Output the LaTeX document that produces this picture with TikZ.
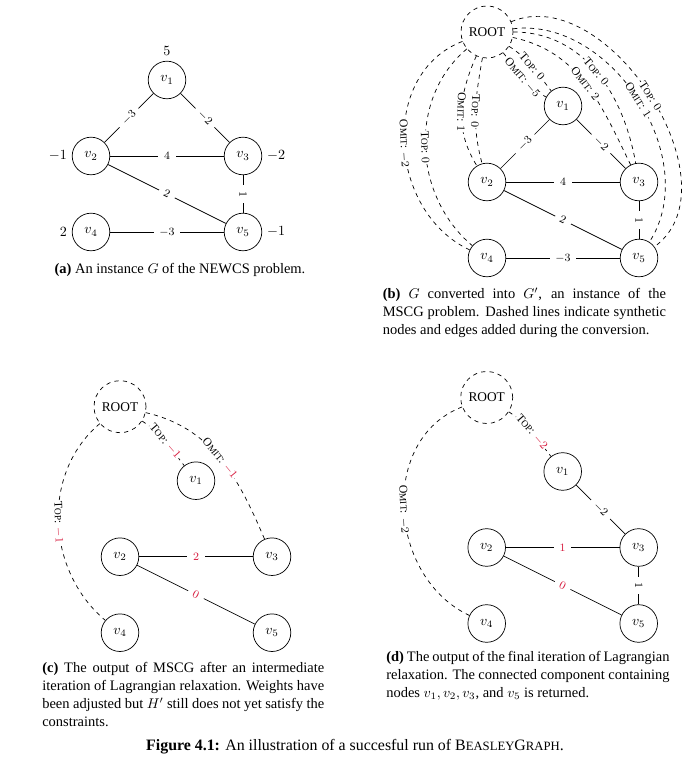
\documentclass[tikz,border=0pt]{standalone}
\usepackage{amsmath}
\usepackage{fontspec}
\setmainfont{Liberation Serif}
\usepackage{tikz}
\definecolor{lagr}{HTML}{D7193C}
\usetikzlibrary{positioning}
% fake small capitals (the serif face has none)
\newcommand{\tsc}[2]{#1\scalebox{0.8}{#2}}
\tikzset{
  vtx/.style={
    draw,
    circle,
    line width=0.5pt,
    minimum size=0.94cm,
    inner sep=0pt,
    font=\fontsize{10}{12}\selectfont
  },
  rootnode/.style={vtx, dashed, minimum size=1.3cm, font=\fontsize{9.5}{11}\selectfont},
  wgt/.style={font=\fontsize{10}{12}\selectfont},
  wedge/.style={line width=0.5pt},
  syn/.style={line width=0.5pt, dashed},
  wlab/.style={fill=white, inner sep=4pt, sloped, font=\fontsize{8}{9.6}\selectfont},
  slab/.style={fill=white, inner sep=0.5pt, sloped, allow upside down, font=\fontsize{8.4}{10}\selectfont},
  captext/.style={inner sep=0pt, font=\fontsize{10.3}{12.8}\selectfont},
  subcap/.style={captext, text width=7.08cm, align=justify, anchor=north west}
}
\begin{document}
\begin{tikzpicture}
  \path[use as bounding box, fill=white] (0,0) rectangle (17.325,19.425);

  % (a) the NEWCS instance
  \begin{scope}[shift={(2.275,13.625)}]
    \node[vtx, label={[wgt]above:$5$}] (a1) at (1.9,3.8) {$v_1$};
    \node[vtx, label={[wgt]left:$-1$}] (a2) at (0,1.9) {$v_2$};
    \node[vtx, label={[wgt]right:$-2$}] (a3) at (3.8,1.9) {$v_3$};
    \node[vtx, label={[wgt]left:$2$}] (a4) at (0,0) {$v_4$};
    \node[vtx, label={[wgt]right:$-1$}] (a5) at (3.8,0) {$v_5$};
    \draw[wedge] (a1) -- node[wlab] {$-3$} (a2);
    \draw[wedge] (a1) -- node[wlab] {$-2$} (a3);
    \draw[wedge] (a2) -- node[wlab] {$4$} (a3);
    \draw[wedge] (a2) -- node[wlab] {$2$} (a5);
    \draw[wedge] (a3) -- node[wlab] {$1$} (a5);
    \draw[wedge] (a4) -- node[wlab] {$-3$} (a5);
  \end{scope}
  \node[captext] (capa) at (4.5,12.675) {\textbf{(a)} An instance $G$ of the NEWCS problem.};

  % (b) the MSCG instance with synthetic root
  \begin{scope}[shift={(12.175,12.975)}]
    \node[rootnode] (broot) at (0,5.65) {ROOT};
    \node[vtx] (b1) at (1.9,3.8) {$v_1$};
    \node[vtx] (b2) at (0,1.9) {$v_2$};
    \node[vtx] (b3) at (3.8,1.9) {$v_3$};
    \node[vtx] (b4) at (0,0) {$v_4$};
    \node[vtx] (b5) at (3.8,0) {$v_5$};
    \draw[wedge] (b1) -- node[wlab] {$-3$} (b2);
    \draw[wedge] (b1) -- node[wlab] {$-2$} (b3);
    \draw[wedge] (b2) -- node[wlab] {$4$} (b3);
    \draw[wedge] (b2) -- node[wlab] {$2$} (b5);
    \draw[wedge] (b3) -- node[wlab] {$1$} (b5);
    \draw[wedge] (b4) -- node[wlab] {$-3$} (b5);
    \draw[syn] (broot) to[out=-33, in=128] node[slab] {\tsc{T}{OP}: $0$} (b1);
    \draw[syn] (broot) to[out=-52, in=152] node[slab] {\tsc{O}{MIT}: $-5$} (b1);
    \draw[syn] (broot) to[out=-100, in=105] node[slab] {\tsc{T}{OP}: $0$} (b2);
    \draw[syn] (broot) to[out=-114, in=122] node[slab] {\tsc{O}{MIT}: $1$} (b2);
    \draw[syn] (broot) to[out=0, in=100] node[slab] {\tsc{T}{OP}: $0$} (b3);
    \draw[syn] (broot) to[out=-12, in=116] node[slab] {\tsc{O}{MIT}: $2$} (b3);
    \draw[syn] (broot) to[out=-140, in=140] node[slab] {\tsc{T}{OP}: $0$} (b4);
    \draw[syn] (broot) to[out=-159, in=155, looseness=1.1] node[slab] {\tsc{O}{MIT}: $-2$} (b4);
    \draw[syn] (broot) to[out=23, in=36] node[slab] {\tsc{T}{OP}: $0$} (b5);
    \draw[syn] (broot) to[out=7, in=57] node[slab] {\tsc{O}{MIT}: $1$} (b5);
  \end{scope}
  \node[subcap] (capb) at (9.5625,12.225) {\textbf{(b)} $G$ converted into $G'$, an instance of the\linebreak MSCG problem. Dashed lines indicate synthetic\linebreak nodes and edges added during the conversion.};

  % (c) intermediate iteration
  \begin{scope}[shift={(3.0,3.6075)}]
    \node[rootnode] (croot) at (0,5.65) {ROOT};
    \node[vtx] (c1) at (1.9,3.8) {$v_1$};
    \node[vtx] (c2) at (0,1.9) {$v_2$};
    \node[vtx] (c3) at (3.8,1.9) {$v_3$};
    \node[vtx] (c4) at (0,0) {$v_4$};
    \node[vtx] (c5) at (3.8,0) {$v_5$};
    \draw[wedge] (c2) -- node[wlab, text=lagr] {$2$} (c3);
    \draw[wedge] (c2) -- node[wlab, text=lagr] {$0$} (c5);
    \draw[syn] (croot) to[out=-33, in=128] node[slab] {\tsc{T}{OP}: \textcolor{lagr}{$-1$}} (c1);
    \draw[syn] (croot) to[out=-13, in=113] node[slab] {\tsc{O}{MIT}: \textcolor{lagr}{$-1$}} (c3);
    \draw[syn] (croot) to[out=-140, in=140] node[slab] {\tsc{T}{OP}: \textcolor{lagr}{$-1$}} (c4);
  \end{scope}
  \node[subcap, text width=7.05cm] (capc) at (1.05,2.875) {\textbf{(c)} The output of MSCG after an intermediate\linebreak iteration of Lagrangian relaxation. Weights have\linebreak been adjusted but $H'$ still does not yet satisfy the\linebreak constraints.};

  % (d) final iteration
  \begin{scope}[shift={(12.1675,3.8375)}]
    \node[rootnode] (droot) at (0,5.65) {ROOT};
    \node[vtx] (d1) at (1.9,3.8) {$v_1$};
    \node[vtx] (d2) at (0,1.9) {$v_2$};
    \node[vtx] (d3) at (3.8,1.9) {$v_3$};
    \node[vtx] (d4) at (0,0) {$v_4$};
    \node[vtx] (d5) at (3.8,0) {$v_5$};
    \draw[wedge] (d1) -- node[wlab] {$-2$} (d3);
    \draw[wedge] (d2) -- node[wlab, text=lagr] {$1$} (d3);
    \draw[wedge] (d2) -- node[wlab, text=lagr] {$0$} (d5);
    \draw[wedge] (d3) -- node[wlab] {$1$} (d5);
    \draw[syn] (droot) to[out=-33, in=128] node[slab] {\tsc{T}{OP}: \textcolor{lagr}{$-2$}} (d1);
    \draw[syn] (droot) to[out=-159, in=155, looseness=1.1] node[slab] {\tsc{O}{MIT}: $-2$} (d4);
  \end{scope}
  \node[subcap] (capd) at (9.65,3.15) {\textbf{(d)} The output of the final iteration of Lagrangian relaxation. The connected component containing nodes $v_1, v_2, v_3$, and $v_5$ is returned.};

  % figure caption
  \node[captext, font=\fontsize{11.3}{13.6}\selectfont] (capfig) at (8.875,0.75) {\textbf{Figure 4.1:} An illustration of a succesful run of \tsc{B}{EASLEY}\tsc{G}{RAPH}.};
\end{tikzpicture}
\end{document}
